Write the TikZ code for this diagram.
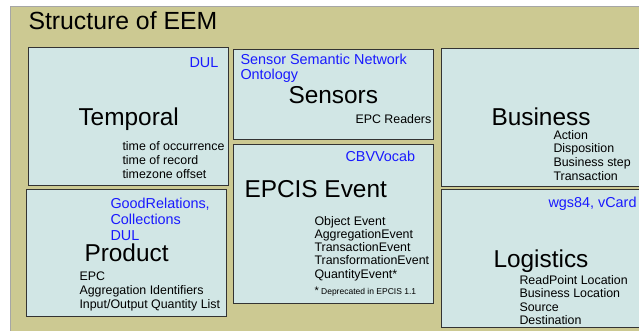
\documentclass[tikz,border=0pt]{standalone}
\usepackage{fontspec}
\setmainfont{Liberation Sans}
\definecolor{olivebg}{RGB}{204,201,146}
\definecolor{boxfill}{RGB}{209,230,229}
\definecolor{vocabblue}{RGB}{25,25,255}

\begin{document}
\begin{tikzpicture}[x=1pt, y=-1pt, line width = 1pt,
  part/.style = {draw=black!80, fill=boxfill},
  heading/.style = {anchor=base west, inner sep=0pt, font=\fontsize{24.4}{28}\selectfont},
  vocab/.style = {anchor=base west, inner sep=0pt, align=left, text=vocabblue, font=\fontsize{14.4}{15.5}\selectfont},
  items/.style = {anchor=base west, inner sep=0pt, align=left, font=\fontsize{12.4}{13.8}\selectfont}]

\clip (0,0) rectangle (639,330);
\fill[white] (0,0) rectangle (639,330);
\draw[draw=black!35, fill=olivebg] (10.5,6.5) rectangle (660,345);

\node[heading, font=\fontsize{24.8}{28}\selectfont] (title) at (28,29) {Structure of EEM};

% Temporal (multi-line nodes sit on their last line)
\draw[part] (28,47) rectangle (228,185);
\node[vocab] (temporalsrc) at (189,67) {DUL};
\node[heading] (temporal) at (78,125) {Temporal};
\node[items, font=\fontsize{12.4}{14.2}\selectfont] (temporalitems) at (122,178.9)
  {time of occurrence\\time of record\\timezone offset};

% Sensors
\draw[part] (233,49) rectangle (433,139);
\node[vocab] (sensorsrc) at (240,79.5) {Sensor Semantic Network\\Ontology};
\node[heading] (sensors) at (288,103) {Sensors};
\node[items] (sensoritems) at (355,123) {EPC Readers};

% EPCIS Event
\draw[part] (233,144) rectangle (433,303);
\node[vocab] (epcissrc) at (345,161) {CBVVocab};
\node[heading] (epcis) at (244,197) {EPCIS Event};
\node[items, font=\fontsize{12.4}{13.3}\selectfont] (epcisitems) at (314,278.2)
  {Object Event\\AggregationEvent\\TransactionEvent\\TransformationEvent\\QuantityEvent*};
\node[items, font=\fontsize{8.5}{10}\selectfont] (epcisnote) at (314,294)
  {{\fontsize{11}{11}\selectfont*} Deprecated in EPCIS 1.1};

% Business
\draw[part] (441,48) rectangle (660,186);
\node[heading] (business) at (491,125) {Business};
\node[items] (businessitems) at (553,180.5)
  {Action\\Disposition\\Business step\\Transaction};

% Product
\draw[part] (26,189) rectangle (226,316);
\node[vocab, font=\fontsize{14.4}{16}\selectfont] (productsrc) at (110,240.3)
  {GoodRelations,\\Collections\\DUL};
\node[heading] (product) at (84,261) {Product};
\node[items, font=\fontsize{12.4}{14}\selectfont] (productitems) at (79,308)
  {EPC\\Aggregation Identifiers\\Input/Output Quantity List};

% Logistics
\draw[part] (441,189) rectangle (660,327);
\node[vocab] (logisticssrc) at (548,207) {wgs84, vCard};
\node[heading] (logistics) at (493,267) {Logistics};
\node[items, font=\fontsize{12.4}{13.6}\selectfont] (logisticsitems) at (519,324.8)
  {ReadPoint Location\\Business Location\\Source\\Destination};

\end{tikzpicture}
\end{document}
